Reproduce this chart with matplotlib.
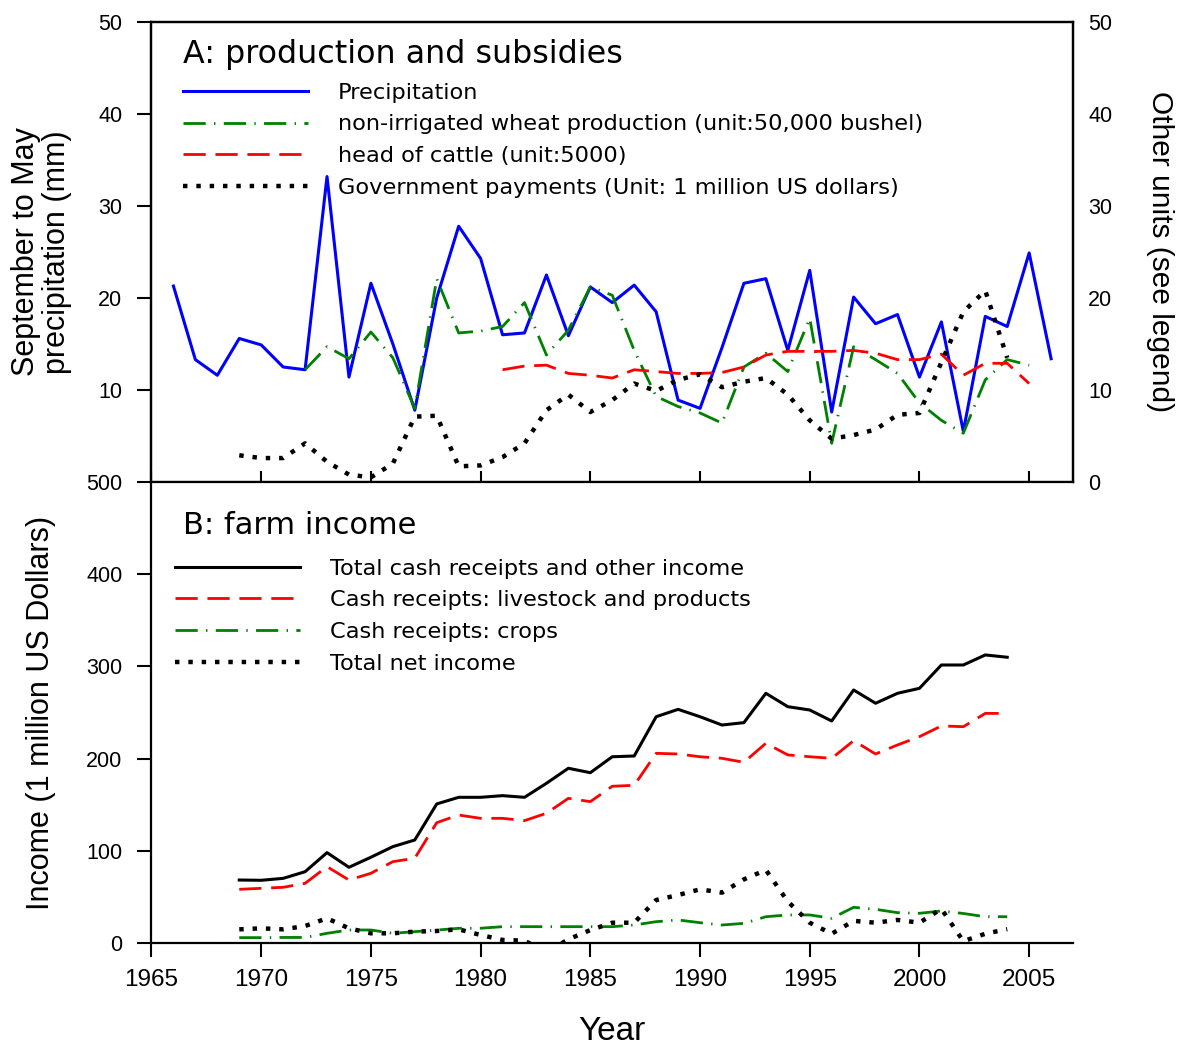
import matplotlib
matplotlib.use('Agg')
import matplotlib.pyplot as plt
import numpy as np

plt.rcParams['font.family'] = 'DejaVu Sans'

# ---- panel A data ----
precip_years = list(range(1966, 2007))
precip = [21.3, 13.3, 11.6, 15.6, 14.9, 12.5, 12.2, 33.2, 11.4, 21.6,
          15.0, 7.8, 20.0, 27.8, 24.3, 16.0, 16.2, 22.5, 15.9, 21.2,
          19.5, 21.4, 18.5, 8.9, 8.0, 14.6, 21.6, 22.1, 14.3, 23.0,
          7.6, 20.1, 17.2, 18.2, 11.4, 17.4, 5.5, 18.0, 16.9, 24.9, 13.4]

wheat_years = list(range(1972, 2006))
wheat = [12.2, 14.7, 13.4, 16.3, 13.5, 8.0, 22.1, 16.2, 16.4, 16.9,
         19.5, 13.8, 16.5, 21.2, 20.3, 14.3, 9.3, 8.2, 7.5, 6.4,
         12.5, 14.0, 12.0, 17.8, 4.2, 14.7, 13.3, 11.8, 8.6, 6.7,
         5.3, 11.1, 13.3, 12.7]

cattle_years = list(range(1981, 2006))
cattle = [12.2, 12.6, 12.7, 11.8, 11.6, 11.3, 12.2, 12.0, 11.8, 11.8,
          11.9, 12.5, 13.8, 14.2, 14.2, 14.2, 14.3, 14.0, 13.3, 13.3,
          13.9, 11.6, 12.9, 12.9, 10.7]

gov_years = list(range(1969, 2005))
gov = [2.9, 2.6, 2.6, 4.2, 2.2, 0.8, 0.5, 2.0, 7.1, 7.2,
       1.7, 1.8, 2.7, 4.2, 7.8, 9.5, 7.6, 8.9, 10.7, 9.9,
       11.1, 11.7, 10.3, 10.9, 11.3, 9.5, 6.7, 4.7, 5.1, 5.7,
       7.3, 7.5, 13.0, 18.5, 20.8, 13.5]

# ---- panel B data ----
inc_years = list(range(1969, 2005))
total = [68.3, 68, 70.1, 77.3, 98, 82.1, 93, 104.5, 111.7, 150.8,
         158, 158, 159.8, 158, 173.2, 189.5, 184.7, 202, 202.8, 245.4,
         253.4, 245.4, 236.4, 239, 270.8, 256.3, 252.7, 240.8, 274.4, 260,
         270.8, 276.2, 301.5, 301.5, 312.4, 309.9]
livestock = [58.2, 59.3, 60.4, 64.7, 82.8, 68.3, 75.6, 88.2, 91.9, 130.5,
             138.8, 135.2, 135.2, 132.7, 140.7, 156.9, 153.3, 170, 171, 205.7,
             205, 202, 200.3, 196, 216.6, 204, 202, 200.3, 219.4, 205,
             214.8, 223.8, 235.4, 234.6, 249, 249]
crops = [5.8, 5.8, 6, 6, 10.5, 14.1, 14.1, 10.5, 12.3, 14,
         15.9, 16, 17.7, 17.7, 17.7, 17.7, 17.7, 17.7, 19.5, 23.1,
         25, 22, 19.5, 21.3, 28.5, 30.4, 30.4, 26.8, 38.7, 36.5,
         32.9, 32.2, 34.7, 32, 28.5, 28.5]
net = [14.8, 15.9, 14.8, 18.4, 26.8, 15.9, 10.5, 10.5, 12.3, 13,
       14.8, 8.7, 3.3, 2.5, -10, 4, 14, 22, 22, 46.6,
       52, 58.2, 54.6, 69, 79.2, 45, 22, 10, 24, 22,
       25, 22, 37, 2, 10, 15]

blue = '#0000ff'
green = '#008000'
red = '#ff0000'
dashdot = (0, (8, 3, 0.5, 3))
dashed = (0, (8, 3.5))
dotted = (0, (1, 2))
tickfont = 'Liberation Sans'
legfs = 16.2

fig = plt.figure(figsize=(11.78, 10.48), dpi=100)
ax1 = fig.add_axes([0.1286, 0.5401, 0.7823, 0.4389])
ax2 = fig.add_axes([0.1286, 0.1002, 0.7823, 0.4399])

# panel A
ax1.plot(precip_years, precip, color=blue, lw=2.2, label='Precipitation')
ax1.plot(wheat_years, wheat, color=green, lw=2, linestyle=dashdot,
         label='non-irrigated wheat production (unit:50,000 bushel)')
ax1.plot(cattle_years, cattle, color=red, lw=2, linestyle=dashed,
         label='head of cattle (unit:5000)')
ax1.plot(gov_years, gov, color='black', lw=3.2, linestyle=dotted,
         dash_capstyle='butt',
         label='Government payments (Unit: 1 million US dollars)')
ax1.set_xlim(1965, 2007)
ax1.set_ylim(0, 50)
ax1.set_xticks(range(1965, 2006, 5))
ax1.set_xticklabels([])
ax1.set_yticks([10, 20, 30, 40, 50])
ax1.tick_params(axis='x', direction='in', length=8, width=1.5)
ax1.tick_params(axis='y', direction='out', length=10, width=1.5, pad=11)
for lab in ax1.get_yticklabels():
    lab.set_fontfamily(tickfont)
    lab.set_fontsize(15.5)
for s in ax1.spines.values():
    s.set_linewidth(1.6)
ax1.set_ylabel('September to May\nprecipitation (mm)', fontsize=22,
               family=tickfont, linespacing=1.05)
ax1.yaxis.set_label_coords(-0.086, 0.5)
ax1.text(0.034, 0.929, 'A: production and subsidies', transform=ax1.transAxes,
         fontsize=22.9, va='center', ha='left')
ax1.legend(loc='upper left', bbox_to_anchor=(0.034, 0.868), frameon=False,
           fontsize=legfs, handlelength=5.55, handletextpad=1.33,
           labelspacing=0.52, borderpad=0, borderaxespad=0)

axr = ax1.twinx()
axr.set_ylim(0, 50)
axr.set_yticks([0, 10, 20, 30, 40, 50])
axr.tick_params(axis='y', length=0, pad=11)
for lab in axr.get_yticklabels():
    lab.set_fontfamily(tickfont)
    lab.set_fontsize(15.5)
for s in axr.spines.values():
    s.set_linewidth(1.6)
axr.set_ylabel('Other units (see legend)', fontsize=21.5, family=tickfont,
               rotation=270, va='center')
axr.yaxis.set_label_coords(1.0944, 0.5)

# panel B
ax2.plot(inc_years, total, color='black', lw=2.2,
         label='Total cash receipts and other income')
ax2.plot(inc_years, livestock, color=red, lw=2, linestyle=dashed,
         label='Cash receipts: livestock and products')
ax2.plot(inc_years, crops, color=green, lw=2, linestyle=dashdot,
         label='Cash receipts: crops')
ax2.plot(inc_years, net, color='black', lw=3.2, linestyle=dotted,
         dash_capstyle='butt', label='Total net income')
ax2.set_xlim(1965, 2007)
ax2.set_ylim(0, 500)
ax2.set_xticks(range(1965, 2006, 5))
ax2.set_yticks(range(0, 501, 100))
ax2.spines['top'].set_visible(False)
ax2.spines['right'].set_visible(False)
for s in ax2.spines.values():
    s.set_linewidth(1.6)
ax2.tick_params(axis='x', direction='out', length=10, width=1.5, pad=9)
ax2.tick_params(axis='y', direction='out', length=10, width=1.5, pad=11)
for lab in ax2.get_xticklabels():
    lab.set_fontfamily(tickfont)
    lab.set_fontsize(17.5)
for lab in ax2.get_yticklabels():
    lab.set_fontfamily(tickfont)
    lab.set_fontsize(15.5)
ax2.set_xlabel('Year', fontsize=24, family=tickfont)
ax2.xaxis.set_label_coords(0.5, -0.158)
ax2.set_ylabel('Income (1 million US Dollars)', fontsize=22, family=tickfont)
ax2.yaxis.set_label_coords(-0.104, 0.5)
ax2.text(0.034, 0.906, 'B: farm income', transform=ax2.transAxes,
         fontsize=22, va='center', ha='left')
ax2.legend(loc='upper left', bbox_to_anchor=(0.0255, 0.834), frameon=False,
           fontsize=legfs, handlelength=5.55, handletextpad=1.33,
           labelspacing=0.52, borderpad=0, borderaxespad=0)

fig.savefig('out.png', dpi=100)
